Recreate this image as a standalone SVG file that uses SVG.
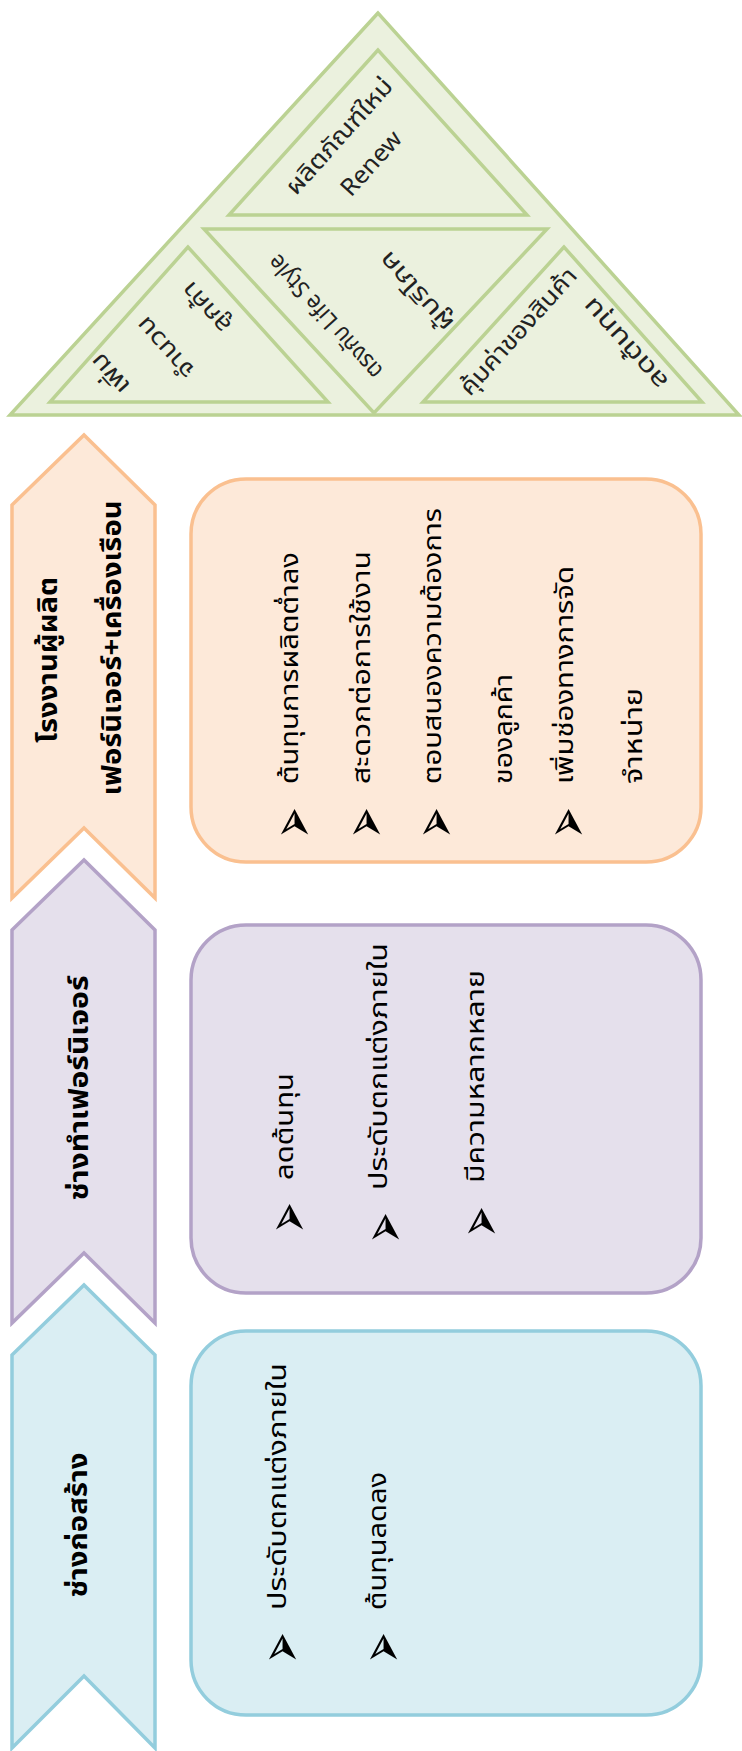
<svg xmlns="http://www.w3.org/2000/svg" width="742" height="1751" viewBox="0 0 742 1751">
<defs>
<style>
.tri{fill:#EBF1DE;stroke:#BBD293;stroke-width:3.5;stroke-linejoin:miter}
.t{font-family:Tahoma,"Leelawadee UI","Noto Sans Thai","Noto Sans","DejaVu Sans",sans-serif;fill:#222}
.tt{font-size:24px;text-anchor:middle;dominant-baseline:central}
.ch{font-size:26px;font-weight:bold;text-anchor:middle;dominant-baseline:central;fill:#000}
.bt{font-size:24px;dominant-baseline:central;fill:#000}
.bu{font-family:"DejaVu Sans",sans-serif;font-size:54px;text-anchor:middle;dominant-baseline:central;fill:#000}
.or{fill:#FDE9D9;stroke:#FAC090;stroke-width:3.5}
.pu{fill:#E5E0EC;stroke:#B3A2C7;stroke-width:3.5}
.bl{fill:#DAEEF3;stroke:#93CDDD;stroke-width:3.5}
</style>
</defs>

<g id="pyramid">
<polygon class="tri" points="378,13 10,415 739,415"/>
<g id="tri-top">
<polygon class="tri" points="378,50 229,215 527,215"/>
<text class="t tt" transform="translate(340,137) rotate(-48)" textLength="147" lengthAdjust="spacingAndGlyphs">ผลิตภัณฑ์ใหม่</text>
<text class="t tt" transform="translate(372,164) rotate(-48)" textLength="78" lengthAdjust="spacingAndGlyphs">Renew</text>
</g>
<g id="tri-mid">
<polygon class="tri" points="204,229 547,229 374,413"/>
<text class="t tt" transform="translate(326,316) rotate(-132)" textLength="158" lengthAdjust="spacingAndGlyphs">ตรงกับ Life Style</text>
<text class="t tt" transform="translate(417,291) rotate(-132)" textLength="98" lengthAdjust="spacingAndGlyphs">ผู้บริโภค</text>
</g>
<g id="tri-left">
<polygon class="tri" points="188,247 50,402 328,402"/>
<text class="t tt" transform="translate(111,373) rotate(-132)" textLength="46" lengthAdjust="spacingAndGlyphs">เพิ่ม</text>
<text class="t tt" transform="translate(166,347) rotate(-132)" textLength="74" lengthAdjust="spacingAndGlyphs">จำนวน</text>
<text class="t tt" transform="translate(207,307) rotate(-132)" textLength="60" lengthAdjust="spacingAndGlyphs">ลูกค้า</text>
</g>
<g id="tri-right">
<polygon class="tri" points="564,247 423,402 702,402"/>
<text class="t tt" transform="translate(519,332) rotate(-48)" textLength="162" lengthAdjust="spacingAndGlyphs">คุ้มค่าของสินค้า</text>
<text class="t tt" transform="translate(626,343) rotate(-132)" textLength="114" lengthAdjust="spacingAndGlyphs">ลดต้นทุน</text>
</g>
</g>

<g id="chevron-factory">
<path class="or" d="M12,505 L84,435 L155,505 L155,898 L84,828 L12,898 Z"/>
<text class="t ch" transform="translate(49,660) rotate(-90)" textLength="166" lengthAdjust="spacingAndGlyphs">โรงงานผู้ผลิต</text>
<text class="t ch" transform="translate(113,648) rotate(-90)" textLength="295" lengthAdjust="spacingAndGlyphs">เฟอร์นิเจอร์+เครื่องเรือน</text>
</g>
<g id="chevron-furniture">
<path class="pu" d="M12,930 L84,860 L155,930 L155,1323 L84,1253 L12,1323 Z"/>
<text class="t ch" transform="translate(80,1088) rotate(-90)" textLength="225" lengthAdjust="spacingAndGlyphs">ช่างทำเฟอร์นิเจอร์</text>
</g>
<g id="chevron-builder">
<path class="bl" d="M12,1355 L84,1285 L155,1355 L155,1748 L84,1676 L12,1748 Z"/>
<text class="t ch" transform="translate(79,1525) rotate(-90)" textLength="145" lengthAdjust="spacingAndGlyphs">ช่างก่อสร้าง</text>
</g>

<g id="box-factory">
<rect class="or" x="191" y="479" width="510" height="383" rx="55" ry="55"/>
<text class="t bt" transform="translate(291,784) rotate(-90)" textLength="232" lengthAdjust="spacingAndGlyphs">ต้นทุนการผลิตต่ำลง</text>
<text class="t bt" transform="translate(363,784) rotate(-90)" textLength="233" lengthAdjust="spacingAndGlyphs">สะดวกต่อการใช้งาน</text>
<text class="t bt" transform="translate(434,784) rotate(-90)" textLength="276" lengthAdjust="spacingAndGlyphs">ตอบสนองความต้องการ</text>
<text class="t bt" transform="translate(505,784) rotate(-90)" textLength="110" lengthAdjust="spacingAndGlyphs">ของลูกค้า</text>
<text class="t bt" transform="translate(566,784) rotate(-90)" textLength="218" lengthAdjust="spacingAndGlyphs">เพิ่มช่องทางการจัด</text>
<text class="t bt" transform="translate(635,784) rotate(-90)" textLength="96" lengthAdjust="spacingAndGlyphs">จำหน่าย</text>
<text class="bu" transform="translate(292,823) rotate(-90) scale(0.7,1.15)">➢</text>
<text class="bu" transform="translate(364,823) rotate(-90) scale(0.7,1.15)">➢</text>
<text class="bu" transform="translate(434,823) rotate(-90) scale(0.7,1.15)">➢</text>
<text class="bu" transform="translate(566,823) rotate(-90) scale(0.7,1.15)">➢</text>
</g>
<g id="box-furniture">
<rect class="pu" x="191" y="925" width="510" height="368" rx="55" ry="55"/>
<text class="t bt" transform="translate(286,1180) rotate(-90)" textLength="107" lengthAdjust="spacingAndGlyphs">ลดต้นทุน</text>
<text class="t bt" transform="translate(380,1190) rotate(-90)" textLength="247" lengthAdjust="spacingAndGlyphs">ประดับตกแต่งภายใน</text>
<text class="t bt" transform="translate(477,1183) rotate(-90)" textLength="213" lengthAdjust="spacingAndGlyphs">มีความหลากหลาย</text>
<text class="bu" transform="translate(287,1218) rotate(-90) scale(0.7,1.15)">➢</text>
<text class="bu" transform="translate(383,1228) rotate(-90) scale(0.7,1.15)">➢</text>
<text class="bu" transform="translate(479,1222) rotate(-90) scale(0.7,1.15)">➢</text>
</g>
<g id="box-builder">
<rect class="bl" x="191" y="1331" width="510" height="384" rx="55" ry="55"/>
<text class="t bt" transform="translate(279,1610) rotate(-90)" textLength="247" lengthAdjust="spacingAndGlyphs">ประดับตกแต่งภายใน</text>
<text class="t bt" transform="translate(379,1610) rotate(-90)" textLength="138" lengthAdjust="spacingAndGlyphs">ต้นทุนลดลง</text>
<text class="bu" transform="translate(280,1648) rotate(-90) scale(0.7,1.15)">➢</text>
<text class="bu" transform="translate(381,1648) rotate(-90) scale(0.7,1.15)">➢</text>
</g>
<g id="connectors"/>
</svg>
